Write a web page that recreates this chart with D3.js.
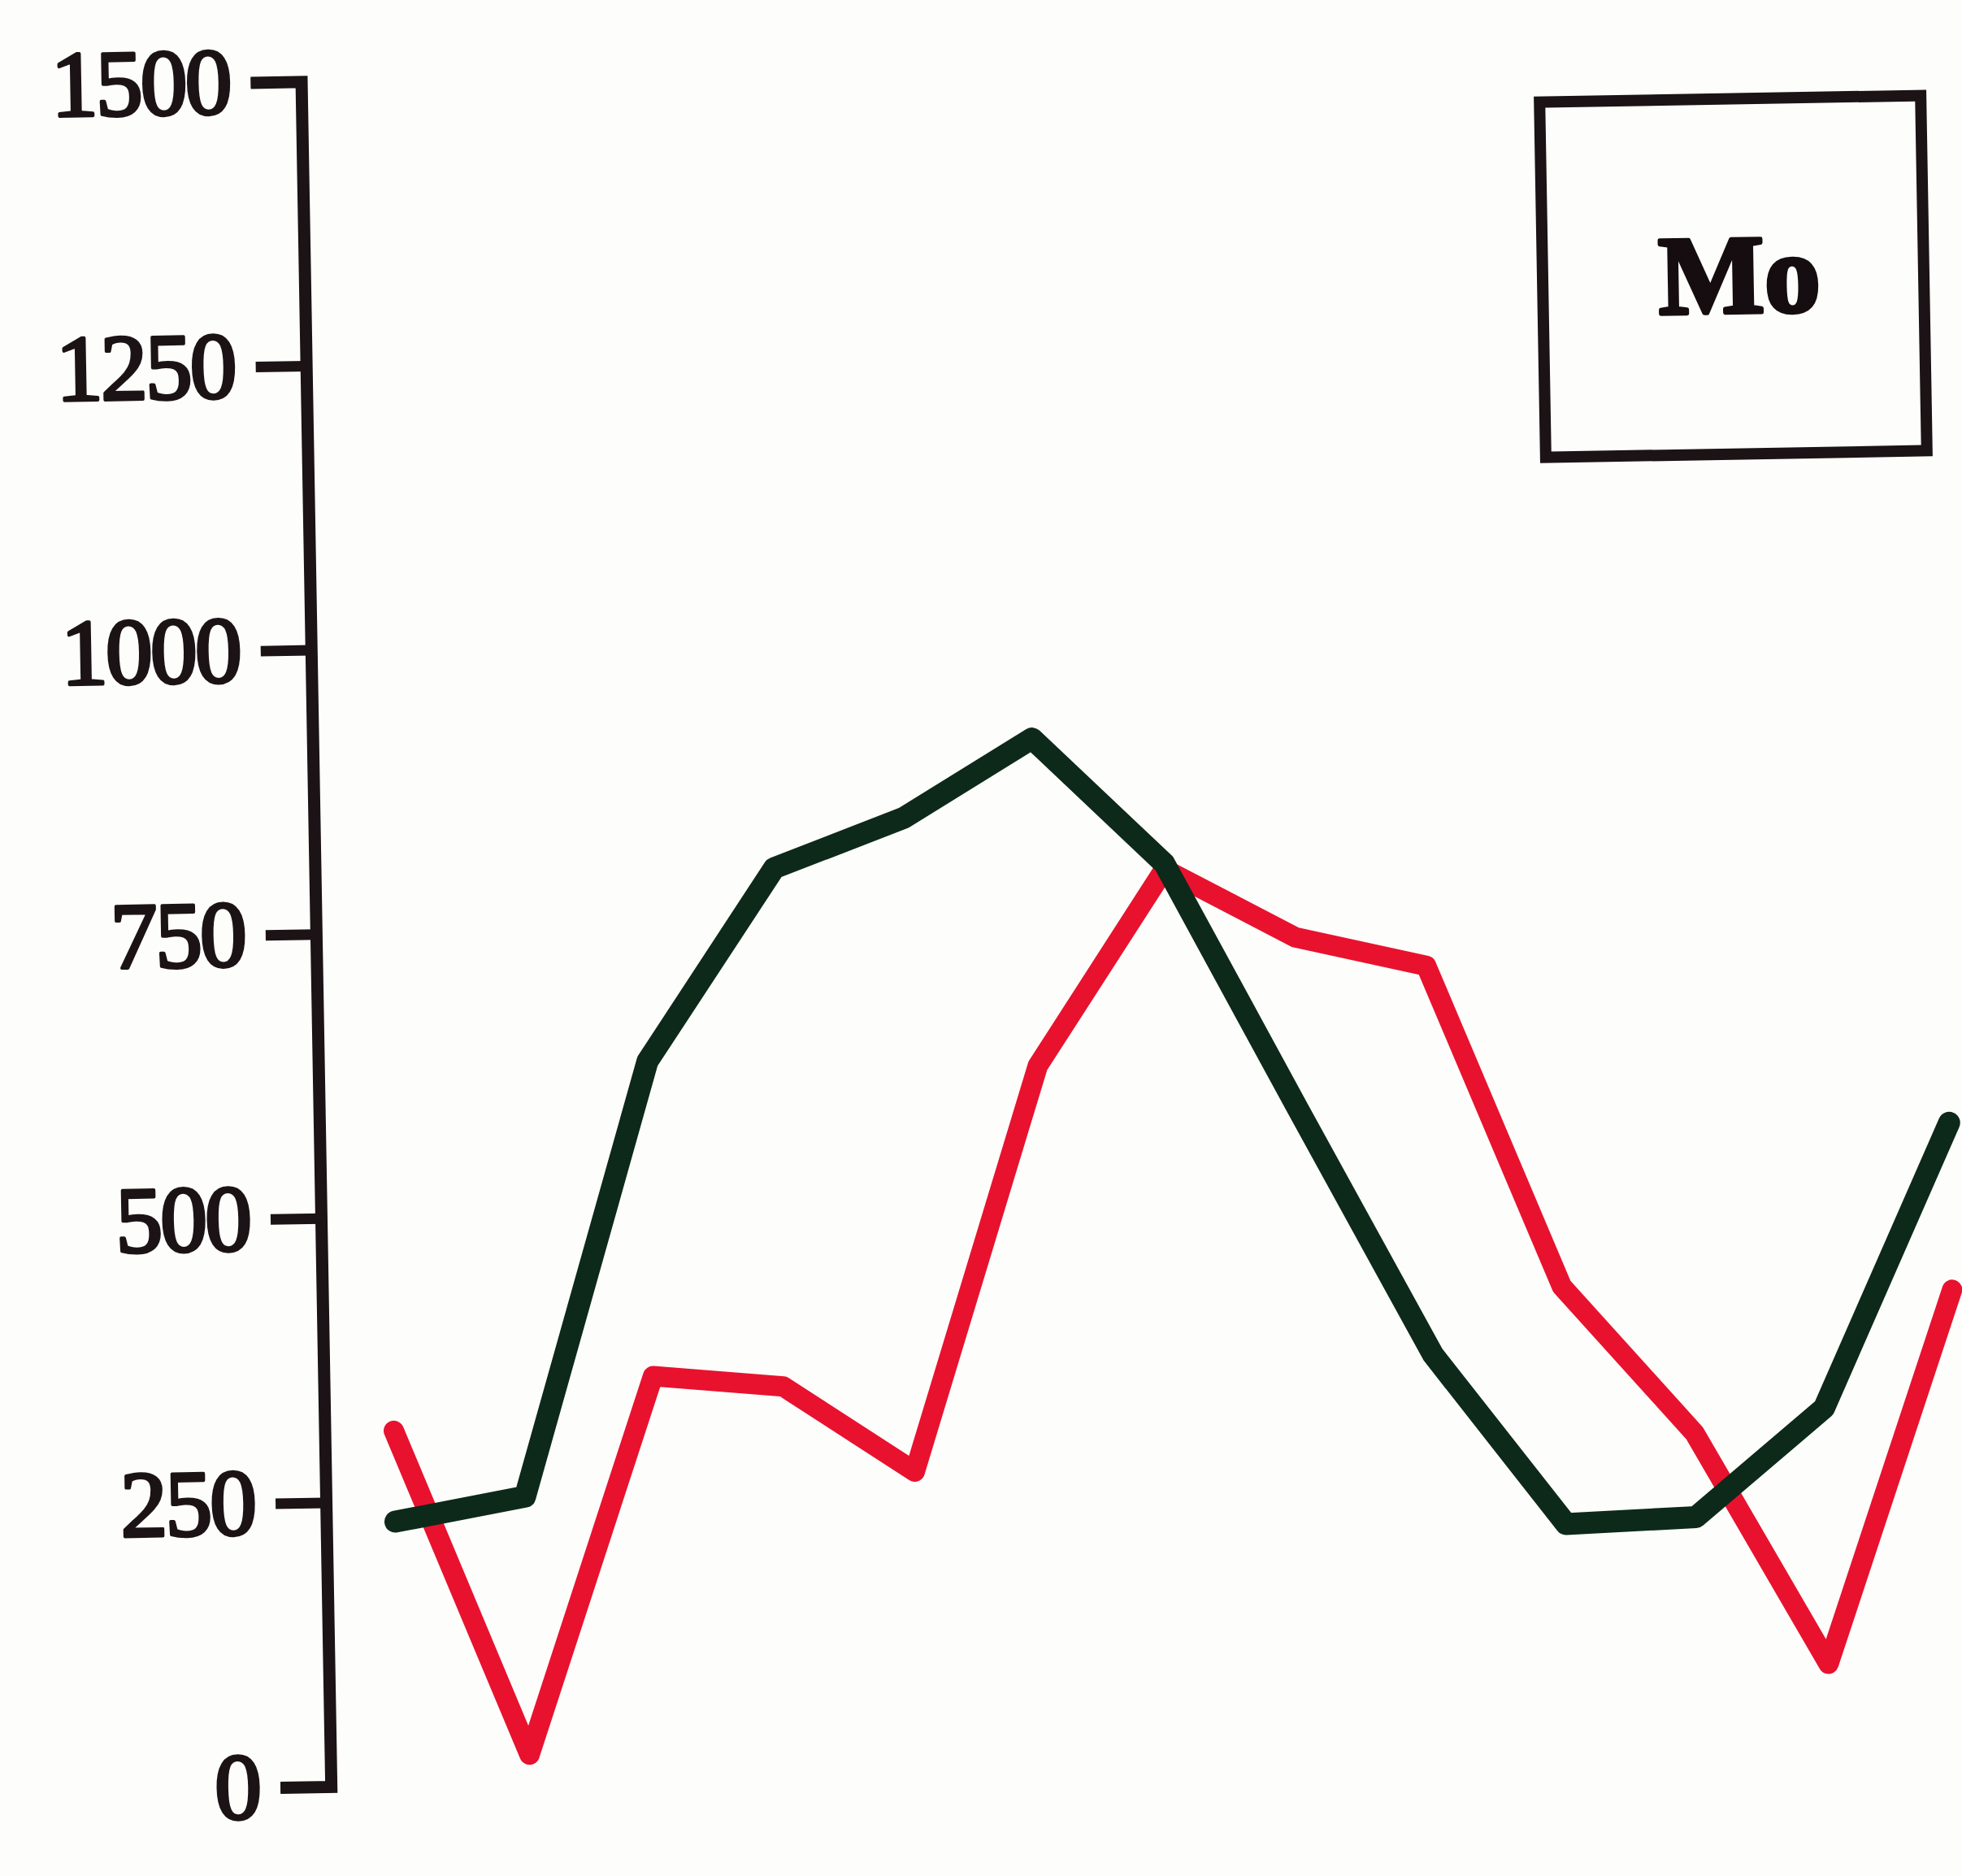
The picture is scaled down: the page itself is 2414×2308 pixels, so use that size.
<!DOCTYPE html>
<html>
<head>
<meta charset="utf-8">
<script src="https://cdn.jsdelivr.net/npm/d3@7"></script>
<style>
  html, body { margin: 0; padding: 0; background: #fdfdfb; }
  svg { display: block; }
</style>
</head>
<body>
<div id="chart"></div>
<script>
// ---- data ----
const categories = ["1","2","3","4","5","6","7","8","9","10","11","12","13"];
const redValues   = [312, 25, 356, 345, 268, 623, 794, 732, 705, 421, 290, 85, 412];
const greenValues = [232, 252, 633, 801, 843, 911, 799, 580, 363, 212, 216, 310, 559];
const yTicks = [0, 250, 500, 750, 1000, 1250, 1500];
const yTickLabels = ["0", "250", "500", "750", "1000", "1250", "1500"];
const panelLabel = "Mo";

// ---- layout ----
const W = 2414, H = 2308;
const svg = d3.select("#chart").append("svg")
  .attr("width", W).attr("height", H);

svg.append("rect").attr("width", W).attr("height", H).attr("fill", "#fdfdfb");

// whole scanned figure is slightly rotated
const g = svg.append("g").attr("transform", "rotate(-1,1200,1150)");

const y = d3.scaleLinear().domain([0, 1500]).range([2184, 86]);
const x = d3.scalePoint().domain(categories).range([474, 2394]);

const axisColor = "#1b1315";
const serif = "'Liberation Serif', 'Times New Roman', Times, 'DejaVu Serif', serif";
const yAxis = d3.axisLeft(y)
  .tickValues(yTicks)
  .tickFormat((d, i) => yTickLabels[i])
  .tickSize(62)
  .tickSizeOuter(62)
  .tickPadding(26);

const ag = g.append("g").attr("transform", "translate(389,0)").call(yAxis);
ag.select(".domain").attr("stroke", axisColor).attr("stroke-width", 15).attr("fill", "none");
ag.selectAll(".tick line").attr("stroke", axisColor).attr("stroke-width", 13);
ag.selectAll(".tick text")
  .attr("fill", axisColor)
  .attr("stroke", axisColor)
  .attr("stroke-width", 4)
  .attr("stroke-linejoin", "round")
  .style("font-family", serif)
  .style("font-size", "116px")
  .style("letter-spacing", "-3px");

// lines
const line = d3.line().x((d, i) => x(categories[i])).y(d => y(d));

g.append("path").datum(redValues)
  .attr("d", line)
  .attr("fill", "none")
  .attr("stroke", "#e8122f")
  .attr("stroke-width", 25)
  .attr("stroke-linejoin", "round")
  .attr("stroke-linecap", "round");

g.append("path").datum(greenValues)
  .attr("d", line)
  .attr("fill", "none")
  .attr("stroke", "#0d291a")
  .attr("stroke-width", 27)
  .attr("stroke-linejoin", "round")
  .attr("stroke-linecap", "round");

// label box
g.append("rect")
  .attr("x", 1912).attr("y", 138).attr("width", 469).attr("height", 437)
  .attr("fill", "none").attr("stroke", axisColor).attr("stroke-width", 14);

g.append("text")
  .attr("x", 2154).attr("y", 401)
  .attr("text-anchor", "middle")
  .attr("fill", "#150d10")
  .attr("stroke", "#150d10")
  .attr("stroke-width", 5)
  .attr("stroke-linejoin", "round")
  .style("font-family", serif)
  .style("font-weight", "bold")
  .style("font-size", "138px")
  .text(panelLabel);
</script>
</body>
</html>
